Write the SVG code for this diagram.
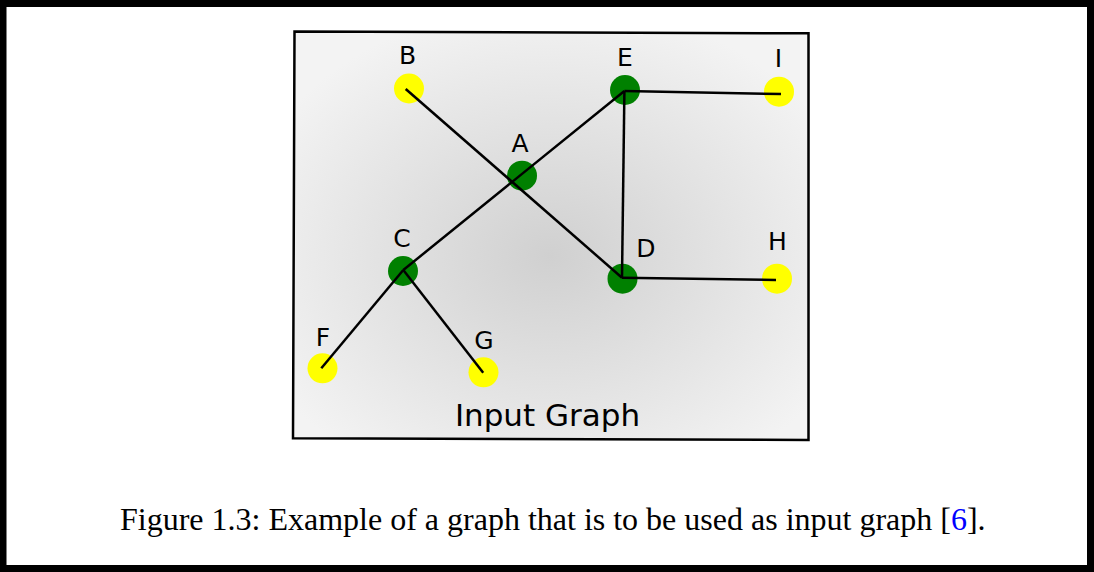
<svg xmlns="http://www.w3.org/2000/svg" width="1094" height="572" viewBox="0 0 1094 572">
<defs>
<radialGradient id="bg" cx="0.5" cy="0.55" r="0.62">
<stop offset="0" stop-color="#d0d0d0"/>
<stop offset="1" stop-color="#f3f3f3"/>
</radialGradient>
<style>
.lbl{font-family:"DejaVu Sans",sans-serif;font-size:25px;fill:#000;text-anchor:middle}
.g{fill:#008000}
.y{fill:#ffff00}
.e{stroke:#000;stroke-width:2.5;fill:none;stroke-linecap:butt}
</style>
</defs>
<rect x="0" y="0" width="1094" height="572" fill="#fff"/>
<rect x="3" y="3.5" width="1087.5" height="565" fill="none" stroke="#000" stroke-width="7"/>
<path d="M294.5,31.5 L808.5,33.3 L808.5,440 L293,438.3 Z" fill="url(#bg)" stroke="#000" stroke-width="2.5"/>
<g id="nodes">
<g id="node-B"><circle class="y" cx="409" cy="88.5" r="15"/><text class="lbl" x="407.5" y="64">B</text></g>
<g id="node-E"><circle class="g" cx="625" cy="90" r="15"/><text class="lbl" x="625" y="66">E</text></g>
<g id="node-I"><circle class="y" cx="779" cy="91.7" r="15"/><text class="lbl" x="778.5" y="67">I</text></g>
<g id="node-A"><circle class="g" cx="522" cy="175.7" r="15"/><text class="lbl" x="520" y="152">A</text></g>
<g id="node-C"><circle class="g" cx="403" cy="271" r="15"/><text class="lbl" x="402" y="247">C</text></g>
<g id="node-D"><circle class="g" cx="622.5" cy="278.7" r="15"/><text class="lbl" x="646" y="257">D</text></g>
<g id="node-H"><circle class="y" cx="777" cy="278.7" r="15"/><text class="lbl" x="777.5" y="250">H</text></g>
<g id="node-F"><circle class="y" cx="322.5" cy="368.3" r="15"/><text class="lbl" x="323" y="346">F</text></g>
<g id="node-G"><circle class="y" cx="483.5" cy="372.3" r="15"/><text class="lbl" x="484" y="349">G</text></g>
</g>
<g id="connectors">
<line class="e" x1="405.7" y1="89" x2="622" y2="277.7"/>
<line class="e" x1="624.4" y1="91" x2="403.3" y2="270"/>
<line class="e" x1="624.4" y1="91" x2="781" y2="94"/>
<line class="e" x1="624.4" y1="91" x2="622" y2="277.7"/>
<line class="e" x1="622" y1="277.7" x2="776" y2="280"/>
<line class="e" x1="403.3" y1="270" x2="321.3" y2="368.3"/>
<line class="e" x1="403.3" y1="270" x2="483.2" y2="372.7"/>
</g>
<text x="547.5" y="425.5" font-family="DejaVu Sans,sans-serif" font-size="31" text-anchor="middle" fill="#000">Input Graph</text>
<text x="120" y="530" font-family="Liberation Serif,serif" font-size="32" fill="#000">Figure 1.3: Example of a graph that is to be used as input graph [<tspan fill="#0000ff">6</tspan>].</text>
</svg>
